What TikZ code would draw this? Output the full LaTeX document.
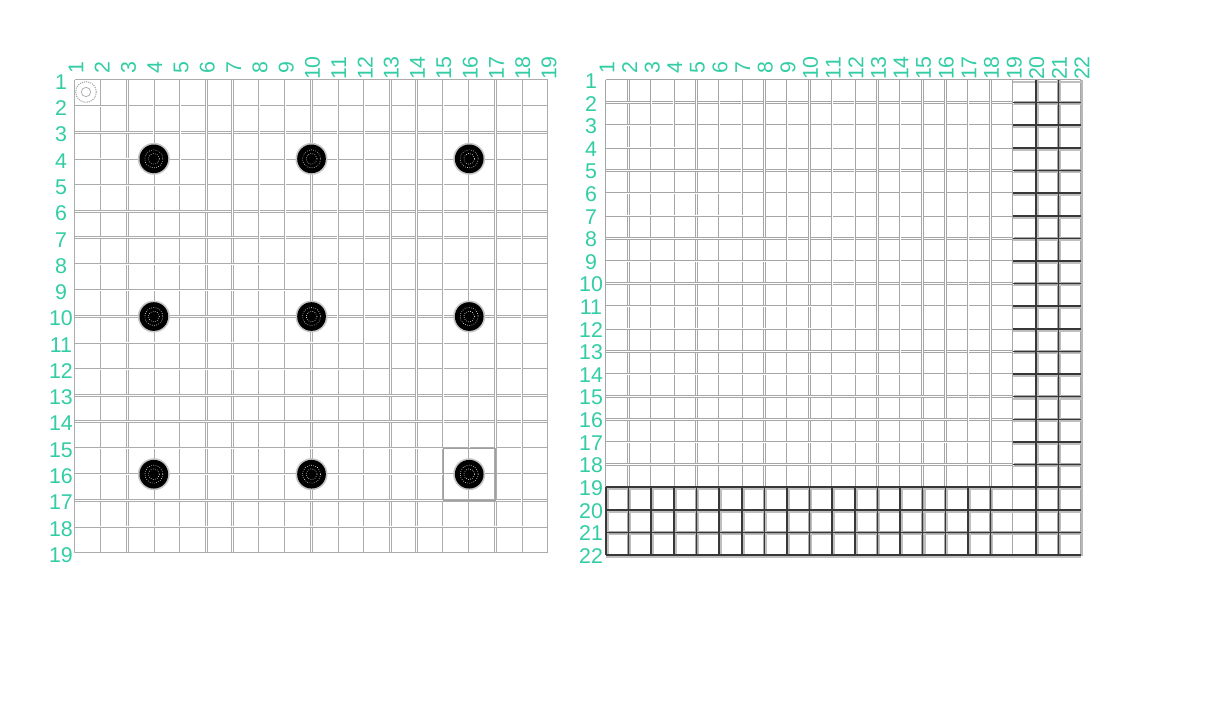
\documentclass[tikz,border=0pt]{standalone}
\usepackage{fontspec}
\setmainfont{Liberation Sans}
\definecolor{labc}{RGB}{50,205,165}
\begin{document}
\begin{tikzpicture}[x=0.75pt,y=-0.75pt,
  lgrid/.style={draw=gray!65, double=white, line width=0.6pt, double distance=0.6pt},
  rgrid/.style={draw=gray!70, double=white, line width=0.6pt, double distance=0.6pt},
  dgrid/.style={draw=black!78, line width=1.2pt},
  dshadow/.style={draw=gray!50, line width=1.3pt},
  lab/.style={text=labc, font=\fontsize{16}{16}\selectfont, inner sep=0pt},
  stonehalo/.style={circle, fill=gray!45, minimum size=24pt, inner sep=0pt},
  stonebody/.style={circle, fill=black, minimum size=21.5pt, inner sep=0pt},
  speck/.style={draw=white, line width=0.45pt, dash pattern=on 0.45pt off 1.2pt},
  markring/.style={circle, fill=white, draw=gray!70, line width=0.8pt, dash pattern=on 0.8pt off 0.8pt, minimum size=15.5pt, inner sep=0pt}
]
\useasboundingbox[fill=white] (0,0) rectangle (1205,704);

% ---------- left board (19 lines) ----------
\def\lx{75}\def\ly{80}\def\ls{26.28}
\foreach \i in {0,...,18}{
  \draw[lgrid] ({\lx+\i*\ls},\ly) -- ({\lx+\i*\ls},{\ly+18*\ls});
  \draw[lgrid] (\lx,{\ly+\i*\ls}) -- ({\lx+18*\ls},{\ly+\i*\ls});
}
\foreach \i in {1,...,19}{
  \node[lab, rotate=90] (lc\i) at ({\lx+(\i-1)*\ls+1},68) {\i};
  \node[lab] (lr\i) at (61,{\ly+(\i-1)*\ls+2}) {\i};
}
% slightly darker square around stone 16-16
\draw[gray!75, line width=0.6pt] ({\lx+14*\ls},{\ly+14*\ls}) rectangle ({\lx+16*\ls},{\ly+16*\ls});
% stones
\foreach \a in {4,10,16}{
  \foreach \b in {4,10,16}{
    \node[stonehalo] (h\a-\b) at ({\lx+(\a-1)*\ls},{\ly+(\b-1)*\ls}) {};
    \node[stonebody] (s\a-\b) at (h\a-\b.center) {};
    \draw[speck] (s\a-\b.center) circle (9);
    \draw[speck] (s\a-\b.center) circle (5.5);
  }
}
% marker in first cell
\node[markring] (mk) at (86,92) {};
\node[circle, draw=gray!60, line width=0.6pt, minimum size=7pt, inner sep=0pt] (mkin) at (mk.center) {};

% ---------- right board (22 lines) ----------
\def\rx{606}\def\ry{80}\def\rs{22.62}
\foreach \i in {0,...,21}{
  \draw[rgrid] ({\rx+\i*\rs},\ry) -- ({\rx+\i*\rs},{\ry+21*\rs});
  \draw[rgrid] (\rx,{\ry+\i*\rs}) -- ({\rx+21*\rs},{\ry+\i*\rs});
}
% dark outer region: shadows first
\foreach \j in {18,...,21}{
  \draw[dshadow] (\rx,{\ry+\j*\rs+2}) -- ({\rx+21*\rs},{\ry+\j*\rs+2});
}
\foreach \j in {0,...,17}{
  \draw[dshadow] ({\rx+18*\rs},{\ry+\j*\rs+2}) -- ({\rx+21*\rs},{\ry+\j*\rs+2});
}
\foreach \i in {0,...,17}{
  \draw[dshadow] ({\rx+\i*\rs+2},{\ry+18*\rs}) -- ({\rx+\i*\rs+2},{\ry+21*\rs});
}
\foreach \i in {19,20}{
  \draw[dshadow] ({\rx+\i*\rs+2},\ry) -- ({\rx+\i*\rs+2},{\ry+21*\rs});
}
% dark lines
\foreach \j in {18,...,21}{
  \draw[dgrid] (\rx,{\ry+\j*\rs}) -- ({\rx+21*\rs},{\ry+\j*\rs});
}
\foreach \j in {1,...,17}{
  \draw[dgrid] ({\rx+18*\rs},{\ry+\j*\rs}) -- ({\rx+21*\rs},{\ry+\j*\rs});
}
\foreach \i in {0,...,17}{
  \draw[dgrid] ({\rx+\i*\rs},{\ry+18*\rs}) -- ({\rx+\i*\rs},{\ry+21*\rs});
}
\foreach \i in {19,20}{
  \draw[dgrid] ({\rx+\i*\rs},\ry) -- ({\rx+\i*\rs},{\ry+21*\rs});
}
\draw[gray!55, line width=2pt] ({\rx+21*\rs+1},\ry) -- ({\rx+21*\rs+1},{\ry+21*\rs+1});
\foreach \i in {1,...,22}{
  \node[lab, rotate=90] (rc\i) at ({\rx+(\i-1)*\rs+1},68) {\i};
  \node[lab] (rr\i) at (591,{\ry+(\i-1)*\rs+1}) {\i};
}
\end{tikzpicture}
\end{document}
